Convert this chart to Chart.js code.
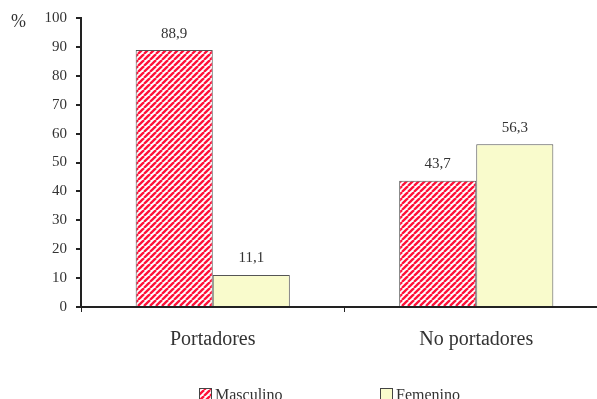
<!DOCTYPE html>
<html>
<head>
<meta charset="utf-8">
<script src="https://cdn.jsdelivr.net/npm/chart.js@4/dist/chart.umd.min.js"></script>
<style>
  html, body { margin: 0; padding: 0; background: #fff; overflow: hidden; }
  #wrap { width: 608px; height: 399px; }
</style>
</head>
<body>
<div id="wrap"><canvas id="c" width="608" height="399"></canvas></div>
<script>
// Share of carriers / non-carriers by sex (%)
const categories = ['Portadores', 'No portadores'];
const seriesNames = ['Masculino', 'Femenino'];
const masculino = [88.9, 43.7];
const femenino = [11.1, 56.3];
const yTicks = [0, 10, 20, 30, 40, 50, 60, 70, 80, 90, 100];

const SERIF = '"Liberation Serif", "DejaVu Serif", serif';
const TEXT = '#333';

// Red diagonal hatch used for the "Masculino" bars
function makeHatch() {
  const p = document.createElement('canvas');
  p.width = 6; p.height = 6;
  const g = p.getContext('2d');
  g.fillStyle = '#ffffff';
  g.fillRect(0, 0, 6, 6);
  g.strokeStyle = '#ff1038';
  g.lineWidth = 2.3;
  for (let k = -6; k <= 12; k += 6) {
    g.beginPath();
    g.moveTo(k, 6);
    g.lineTo(k + 6, 0);
    g.stroke();
  }
  return g.createPattern(p, 'repeat');
}
const hatch = makeHatch();
const yellow = '#f9fbcc';

const fmt = v => v.toFixed(1).replace('.', ',');

// Value labels above each bar, "%" unit label and bottom legend
const extras = {
  id: 'extras',
  afterDatasetsDraw(chart) {
    const ctx = chart.ctx;
    ctx.save();
    ctx.font = '15px ' + SERIF;
    ctx.fillStyle = TEXT;
    ctx.textAlign = 'center';
    ctx.textBaseline = 'bottom';
    chart.data.datasets.forEach((ds, i) => {
      chart.getDatasetMeta(i).data.forEach((bar, j) => {
        ctx.fillText(fmt(ds.data[j]), bar.x, bar.y - 9);
      });
    });
    ctx.textAlign = 'left';
    ctx.textBaseline = 'middle';
    ctx.font = '18px ' + SERIF;
    ctx.fillText('%', 11, 22);

    // legend
    ctx.font = '16px ' + SERIF;
    const fills = [hatch, yellow];
    const xs = [199, 380];
    seriesNames.forEach((name, i) => {
      ctx.fillStyle = fills[i];
      ctx.fillRect(xs[i], 388, 12, 12);
      ctx.strokeStyle = '#444';
      ctx.lineWidth = 1;
      ctx.strokeRect(xs[i] + 0.5, 388.5, 12, 12);
      ctx.fillStyle = TEXT;
      ctx.fillText(name, xs[i] + 16, 396);
    });
    ctx.restore();
  }
};

new Chart(document.getElementById('c'), {
  type: 'bar',
  data: {
    labels: categories,
    datasets: [
      { label: seriesNames[0], data: masculino, backgroundColor: hatch,
        borderColor: '#555', borderWidth: 1, borderSkipped: 'bottom' },
      { label: seriesNames[1], data: femenino, backgroundColor: yellow,
        borderColor: '#555', borderWidth: 1, borderSkipped: 'bottom' }
    ]
  },
  options: {
    responsive: false,
    animation: false,
    events: [],
    layout: { padding: { top: 18, right: 0, left: 0, bottom: 0 } },
    categoryPercentage: 0.585,
    barPercentage: 1.0,
    plugins: { legend: { display: false }, tooltip: { enabled: false } },
    scales: {
      x: {
        offset: true,
        grid: { display: true, offset: true, drawOnChartArea: false, drawTicks: true,
                tickLength: 5, color: '#222', lineWidth: 1 },
        border: { display: true, color: '#222', width: 2 },
        ticks: { color: TEXT, font: { family: SERIF, size: 20 }, padding: 16 },
        afterFit(s) { s.height = 92; }
      },
      y: {
        min: 0, max: 100,
        afterBuildTicks(s) { s.ticks = yTicks.map(v => ({ value: v })); },
        grid: { display: true, drawOnChartArea: false, drawTicks: true,
                tickLength: 5, color: '#222', lineWidth: 2 },
        border: { display: true, color: '#222', width: 2 },
        ticks: { color: TEXT, font: { family: SERIF, size: 15 }, padding: 9 },
        afterFit(s) { s.width = 81; }
      }
    }
  },
  plugins: [extras]
});
</script>
</body>
</html>
